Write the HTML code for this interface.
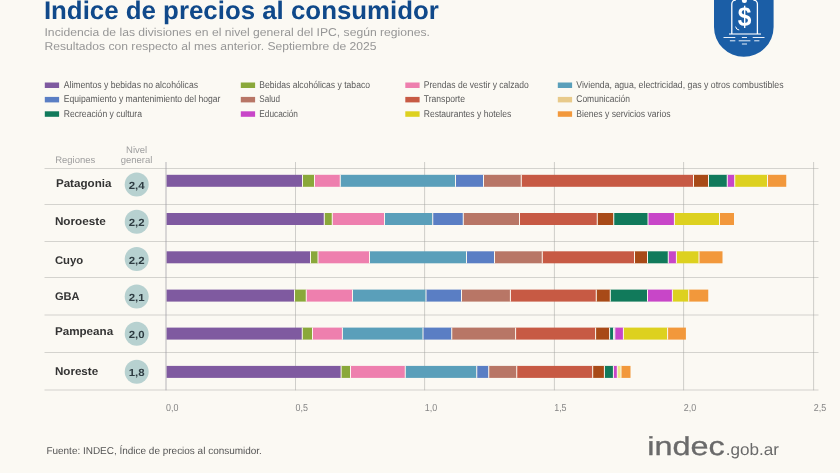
<!DOCTYPE html>
<html lang="es"><head><meta charset="utf-8"><title>Índice de precios al consumidor</title>
<style>
html,body{margin:0;padding:0;background:#fbf9f3;}
body{width:840px;height:473px;overflow:hidden;position:relative;font-family:"Liberation Sans",sans-serif;}
svg{position:absolute;left:0;top:0;display:block}
text{font-family:"Liberation Sans",sans-serif;text-rendering:geometricPrecision}
</style></head><body>
<svg width="840" height="473" viewBox="0 0 840 473">
<rect width="840" height="473" fill="#fbf9f3"/>

<text x="43.9" y="19.3" font-size="25.4" font-weight="bold" fill="#10498a" textLength="395" lengthAdjust="spacingAndGlyphs">Índice de precios al consumidor</text>
<text x="44.5" y="35.5" font-size="11.4" fill="#969696" textLength="385.5" lengthAdjust="spacingAndGlyphs">Incidencia de las divisiones en el nivel general del IPC, según regiones.</text>
<text x="44.5" y="49.9" font-size="11.4" fill="#969696" textLength="332" lengthAdjust="spacingAndGlyphs">Resultados con respecto al mes anterior. Septiembre de 2025</text>
<g>
<path d="M714 0 H773.6 V27 A29.8 29.8 0 0 1 714 27 Z" fill="#1b5ea6"/>
<path d="M731.8 34 V4 A4 4 0 0 1 735.8 0 M753.4 0 A4 4 0 0 1 757.4 4 V34" fill="none" stroke="#fff" stroke-width="1.3"/>
<path d="M729 34 H761" stroke="#fff" stroke-width="1.1" fill="none"/>
<path d="M723.5 37.5 H735.3 M741.9 37.5 H747 M752.7 37.5 H764.5 M729.9 40.8 H735.3 M738.7 40.8 H750.4 M754.2 40.8 H759.4 M741.9 44 H747" stroke="#e8f0fa" stroke-width="1" fill="none"/>
<path d="M735.6 26.6 A4 4 0 0 0 739.2 30" stroke="#fff" stroke-width="1" fill="none"/>
<circle cx="744.4" cy="0.4" r="2.5" fill="#fff"/>
<text transform="translate(744.6,26.3) scale(0.9,1)" x="0" y="0" font-size="27.3" font-weight="bold" fill="#fff" text-anchor="middle">$</text>
</g>
<rect x="44.80" y="82.50" width="14.3" height="5.5" fill="#7f5aa0"/>
<text x="63.75" y="87.90" font-size="9.8" text-rendering="geometricPrecision" fill="#5a5a5a" textLength="134.25" lengthAdjust="spacingAndGlyphs">Alimentos y bebidas no alcohólicas</text>
<rect x="44.80" y="96.90" width="14.3" height="5.5" fill="#5a7ec4"/>
<text x="63.75" y="102.40" font-size="9.8" text-rendering="geometricPrecision" fill="#5a5a5a" textLength="156.75" lengthAdjust="spacingAndGlyphs">Equipamiento y mantenimiento del hogar</text>
<rect x="44.80" y="111.30" width="14.3" height="5.5" fill="#117a5b"/>
<text x="63.75" y="116.90" font-size="9.8" text-rendering="geometricPrecision" fill="#5a5a5a" textLength="78.25" lengthAdjust="spacingAndGlyphs">Recreación y cultura</text>
<rect x="240.80" y="82.50" width="14.3" height="5.5" fill="#8aa83a"/>
<text x="259.25" y="87.90" font-size="9.8" text-rendering="geometricPrecision" fill="#5a5a5a" textLength="110.75" lengthAdjust="spacingAndGlyphs">Bebidas alcohólicas y tabaco</text>
<rect x="240.80" y="96.90" width="14.3" height="5.5" fill="#b87666"/>
<text x="259.25" y="102.40" font-size="9.8" text-rendering="geometricPrecision" fill="#5a5a5a" textLength="20.75" lengthAdjust="spacingAndGlyphs">Salud</text>
<rect x="240.80" y="111.30" width="14.3" height="5.5" fill="#c846c8"/>
<text x="259.25" y="116.90" font-size="9.8" text-rendering="geometricPrecision" fill="#5a5a5a" textLength="38.75" lengthAdjust="spacingAndGlyphs">Educación</text>
<rect x="405.30" y="82.50" width="14.3" height="5.5" fill="#ee7fae"/>
<text x="423.75" y="87.90" font-size="9.8" text-rendering="geometricPrecision" fill="#5a5a5a" textLength="105.00" lengthAdjust="spacingAndGlyphs">Prendas de vestir y calzado</text>
<rect x="405.30" y="96.90" width="14.3" height="5.5" fill="#c75a44"/>
<text x="423.75" y="102.40" font-size="9.8" text-rendering="geometricPrecision" fill="#5a5a5a" textLength="41.25" lengthAdjust="spacingAndGlyphs">Transporte</text>
<rect x="405.30" y="111.30" width="14.3" height="5.5" fill="#ddd11f"/>
<text x="423.75" y="116.90" font-size="9.8" text-rendering="geometricPrecision" fill="#5a5a5a" textLength="87.50" lengthAdjust="spacingAndGlyphs">Restaurantes y hoteles</text>
<rect x="557.80" y="82.50" width="14.3" height="5.5" fill="#5a9fba"/>
<text x="576.25" y="87.90" font-size="9.8" text-rendering="geometricPrecision" fill="#5a5a5a" textLength="207.25" lengthAdjust="spacingAndGlyphs">Vivienda, agua, electricidad, gas y otros combustibles</text>
<rect x="557.80" y="96.90" width="14.3" height="5.5" fill="#e8ca8a"/>
<text x="576.25" y="102.40" font-size="9.8" text-rendering="geometricPrecision" fill="#5a5a5a" textLength="53.75" lengthAdjust="spacingAndGlyphs">Comunicación</text>
<rect x="557.80" y="111.30" width="14.3" height="5.5" fill="#f2983b"/>
<text x="576.25" y="116.90" font-size="9.8" text-rendering="geometricPrecision" fill="#5a5a5a" textLength="94.25" lengthAdjust="spacingAndGlyphs">Bienes y servicios varios</text>
<text x="55.2" y="163" font-size="9.5" fill="#a0a0a0">Regiones</text>
<text x="136.6" y="153.3" font-size="9.5" fill="#a0a0a0" text-anchor="middle">Nivel</text>
<text x="136.6" y="163" font-size="9.5" fill="#a0a0a0" text-anchor="middle">general</text>
<rect x="44.5" y="168.00" width="774" height="0.5" fill="#adaca8"/>
<rect x="44.5" y="204.25" width="774" height="0.5" fill="#adaca8"/>
<rect x="44.5" y="241.00" width="774" height="0.5" fill="#adaca8"/>
<rect x="44.5" y="277.50" width="774" height="0.5" fill="#adaca8"/>
<rect x="44.5" y="314.75" width="774" height="0.5" fill="#adaca8"/>
<rect x="44.5" y="352.00" width="774" height="0.5" fill="#adaca8"/>
<rect x="44.5" y="389.75" width="774" height="0.5" fill="#adaca8"/>
<rect x="165.65" y="162" width="0.7" height="228.30" fill="#9d99a3"/>
<rect x="295.25" y="162" width="0.5" height="228.30" fill="#a3a2a0"/>
<rect x="424.55" y="162" width="0.5" height="228.30" fill="#a3a2a0"/>
<rect x="553.95" y="162" width="0.5" height="228.30" fill="#a3a2a0"/>
<rect x="683.55" y="162" width="0.5" height="228.30" fill="#a3a2a0"/>
<rect x="813.55" y="162" width="0.5" height="228.30" fill="#a3a2a0"/>
<rect x="166.60" y="174.8" width="135.90" height="12.0" fill="#7f5aa0"/>
<rect x="302.50" y="174.8" width="12.00" height="12.0" fill="#8aa83a"/>
<rect x="314.50" y="174.8" width="25.75" height="12.0" fill="#ee7fae"/>
<rect x="340.25" y="174.8" width="115.25" height="12.0" fill="#5a9fba"/>
<rect x="455.50" y="174.8" width="28.00" height="12.0" fill="#5a7ec4"/>
<rect x="483.50" y="174.8" width="37.75" height="12.0" fill="#b87666"/>
<rect x="521.25" y="174.8" width="172.25" height="12.0" fill="#c75a44"/>
<rect x="693.50" y="174.8" width="15.00" height="12.0" fill="#a84a17"/>
<rect x="708.50" y="174.8" width="18.75" height="12.0" fill="#117a5b"/>
<rect x="727.25" y="174.8" width="7.50" height="12.0" fill="#c846c8"/>
<rect x="734.75" y="174.8" width="32.75" height="12.0" fill="#ddd11f"/>
<rect x="767.50" y="174.8" width="18.75" height="12.0" fill="#f2983b"/>
<rect x="302.00" y="174.8" width="1" height="12.0" fill="#fbf6ee"/>
<rect x="314.00" y="174.8" width="1" height="12.0" fill="#fbf6ee"/>
<rect x="339.75" y="174.8" width="1" height="12.0" fill="#fbf6ee"/>
<rect x="455.00" y="174.8" width="1" height="12.0" fill="#fbf6ee"/>
<rect x="483.00" y="174.8" width="1" height="12.0" fill="#fbf6ee"/>
<rect x="520.75" y="174.8" width="1" height="12.0" fill="#fbf6ee"/>
<rect x="693.00" y="174.8" width="1" height="12.0" fill="#fbf6ee"/>
<rect x="708.00" y="174.8" width="1" height="12.0" fill="#fbf6ee"/>
<rect x="726.75" y="174.8" width="1" height="12.0" fill="#fbf6ee"/>
<rect x="734.25" y="174.8" width="1" height="12.0" fill="#fbf6ee"/>
<rect x="767.00" y="174.8" width="1" height="12.0" fill="#fbf6ee"/>
<circle cx="136.7" cy="184.4" r="12" fill="#b7d1d0"/>
<text x="136.7" y="188.90" font-size="10.3" font-weight="bold" fill="#2e3c42" text-anchor="middle" text-rendering="geometricPrecision" textLength="15.9" lengthAdjust="spacingAndGlyphs">2,4</text>
<text x="55.9" y="187.4" font-size="11.2" font-weight="bold" fill="#333" textLength="55.55" lengthAdjust="spacingAndGlyphs">Patagonia</text>
<rect x="166.60" y="213.0" width="157.65" height="12.0" fill="#7f5aa0"/>
<rect x="324.25" y="213.0" width="8.00" height="12.0" fill="#8aa83a"/>
<rect x="332.25" y="213.0" width="52.25" height="12.0" fill="#ee7fae"/>
<rect x="384.50" y="213.0" width="48.25" height="12.0" fill="#5a9fba"/>
<rect x="432.75" y="213.0" width="30.50" height="12.0" fill="#5a7ec4"/>
<rect x="463.25" y="213.0" width="56.25" height="12.0" fill="#b87666"/>
<rect x="519.50" y="213.0" width="77.75" height="12.0" fill="#c75a44"/>
<rect x="597.25" y="213.0" width="16.50" height="12.0" fill="#a84a17"/>
<rect x="613.75" y="213.0" width="34.25" height="12.0" fill="#117a5b"/>
<rect x="648.00" y="213.0" width="26.40" height="12.0" fill="#c846c8"/>
<rect x="674.40" y="213.0" width="45.10" height="12.0" fill="#ddd11f"/>
<rect x="719.50" y="213.0" width="14.50" height="12.0" fill="#f2983b"/>
<rect x="323.75" y="213.0" width="1" height="12.0" fill="#fbf6ee"/>
<rect x="331.75" y="213.0" width="1" height="12.0" fill="#fbf6ee"/>
<rect x="384.00" y="213.0" width="1" height="12.0" fill="#fbf6ee"/>
<rect x="432.25" y="213.0" width="1" height="12.0" fill="#fbf6ee"/>
<rect x="462.75" y="213.0" width="1" height="12.0" fill="#fbf6ee"/>
<rect x="519.00" y="213.0" width="1" height="12.0" fill="#fbf6ee"/>
<rect x="596.75" y="213.0" width="1" height="12.0" fill="#fbf6ee"/>
<rect x="613.25" y="213.0" width="1" height="12.0" fill="#fbf6ee"/>
<rect x="647.50" y="213.0" width="1" height="12.0" fill="#fbf6ee"/>
<rect x="673.90" y="213.0" width="1" height="12.0" fill="#fbf6ee"/>
<rect x="719.00" y="213.0" width="1" height="12.0" fill="#fbf6ee"/>
<circle cx="136.7" cy="221.75" r="12" fill="#b7d1d0"/>
<text x="136.7" y="226.25" font-size="10.3" font-weight="bold" fill="#2e3c42" text-anchor="middle" text-rendering="geometricPrecision" textLength="15.9" lengthAdjust="spacingAndGlyphs">2,2</text>
<text x="54.9" y="224.5" font-size="11.2" font-weight="bold" fill="#333" textLength="50.80" lengthAdjust="spacingAndGlyphs">Noroeste</text>
<rect x="166.60" y="251.3" width="143.90" height="12.0" fill="#7f5aa0"/>
<rect x="310.50" y="251.3" width="7.50" height="12.0" fill="#8aa83a"/>
<rect x="318.00" y="251.3" width="51.50" height="12.0" fill="#ee7fae"/>
<rect x="369.50" y="251.3" width="97.00" height="12.0" fill="#5a9fba"/>
<rect x="466.50" y="251.3" width="28.00" height="12.0" fill="#5a7ec4"/>
<rect x="494.50" y="251.3" width="47.75" height="12.0" fill="#b87666"/>
<rect x="542.25" y="251.3" width="92.25" height="12.0" fill="#c75a44"/>
<rect x="634.50" y="251.3" width="13.00" height="12.0" fill="#a84a17"/>
<rect x="647.50" y="251.3" width="20.75" height="12.0" fill="#117a5b"/>
<rect x="668.25" y="251.3" width="8.15" height="12.0" fill="#c846c8"/>
<rect x="676.40" y="251.3" width="22.60" height="12.0" fill="#ddd11f"/>
<rect x="699.00" y="251.3" width="23.50" height="12.0" fill="#f2983b"/>
<rect x="310.00" y="251.3" width="1" height="12.0" fill="#fbf6ee"/>
<rect x="317.50" y="251.3" width="1" height="12.0" fill="#fbf6ee"/>
<rect x="369.00" y="251.3" width="1" height="12.0" fill="#fbf6ee"/>
<rect x="466.00" y="251.3" width="1" height="12.0" fill="#fbf6ee"/>
<rect x="494.00" y="251.3" width="1" height="12.0" fill="#fbf6ee"/>
<rect x="541.75" y="251.3" width="1" height="12.0" fill="#fbf6ee"/>
<rect x="634.00" y="251.3" width="1" height="12.0" fill="#fbf6ee"/>
<rect x="647.00" y="251.3" width="1" height="12.0" fill="#fbf6ee"/>
<rect x="667.75" y="251.3" width="1" height="12.0" fill="#fbf6ee"/>
<rect x="675.90" y="251.3" width="1" height="12.0" fill="#fbf6ee"/>
<rect x="698.50" y="251.3" width="1" height="12.0" fill="#fbf6ee"/>
<circle cx="136.7" cy="259" r="12" fill="#b7d1d0"/>
<text x="136.7" y="263.50" font-size="10.3" font-weight="bold" fill="#2e3c42" text-anchor="middle" text-rendering="geometricPrecision" textLength="15.9" lengthAdjust="spacingAndGlyphs">2,2</text>
<text x="54.9" y="264.1" font-size="11.2" font-weight="bold" fill="#333" textLength="28.30" lengthAdjust="spacingAndGlyphs">Cuyo</text>
<rect x="166.60" y="289.6" width="127.90" height="12.0" fill="#7f5aa0"/>
<rect x="294.50" y="289.6" width="11.75" height="12.0" fill="#8aa83a"/>
<rect x="306.25" y="289.6" width="46.25" height="12.0" fill="#ee7fae"/>
<rect x="352.50" y="289.6" width="73.50" height="12.0" fill="#5a9fba"/>
<rect x="426.00" y="289.6" width="35.50" height="12.0" fill="#5a7ec4"/>
<rect x="461.50" y="289.6" width="48.90" height="12.0" fill="#b87666"/>
<rect x="510.40" y="289.6" width="85.85" height="12.0" fill="#c75a44"/>
<rect x="596.25" y="289.6" width="14.00" height="12.0" fill="#a84a17"/>
<rect x="610.25" y="289.6" width="37.25" height="12.0" fill="#117a5b"/>
<rect x="647.50" y="289.6" width="24.90" height="12.0" fill="#c846c8"/>
<rect x="672.40" y="289.6" width="16.35" height="12.0" fill="#ddd11f"/>
<rect x="688.75" y="289.6" width="19.50" height="12.0" fill="#f2983b"/>
<rect x="294.00" y="289.6" width="1" height="12.0" fill="#fbf6ee"/>
<rect x="305.75" y="289.6" width="1" height="12.0" fill="#fbf6ee"/>
<rect x="352.00" y="289.6" width="1" height="12.0" fill="#fbf6ee"/>
<rect x="425.50" y="289.6" width="1" height="12.0" fill="#fbf6ee"/>
<rect x="461.00" y="289.6" width="1" height="12.0" fill="#fbf6ee"/>
<rect x="509.90" y="289.6" width="1" height="12.0" fill="#fbf6ee"/>
<rect x="595.75" y="289.6" width="1" height="12.0" fill="#fbf6ee"/>
<rect x="609.75" y="289.6" width="1" height="12.0" fill="#fbf6ee"/>
<rect x="647.00" y="289.6" width="1" height="12.0" fill="#fbf6ee"/>
<rect x="671.90" y="289.6" width="1" height="12.0" fill="#fbf6ee"/>
<rect x="688.25" y="289.6" width="1" height="12.0" fill="#fbf6ee"/>
<circle cx="136.7" cy="296.4" r="12" fill="#b7d1d0"/>
<text x="136.7" y="300.90" font-size="10.3" font-weight="bold" fill="#2e3c42" text-anchor="middle" text-rendering="geometricPrecision" textLength="15.9" lengthAdjust="spacingAndGlyphs">2,1</text>
<text x="54.9" y="300.3" font-size="11.2" font-weight="bold" fill="#333" textLength="24.55" lengthAdjust="spacingAndGlyphs">GBA</text>
<rect x="166.60" y="327.6" width="135.65" height="12.0" fill="#7f5aa0"/>
<rect x="302.25" y="327.6" width="10.25" height="12.0" fill="#8aa83a"/>
<rect x="312.50" y="327.6" width="29.90" height="12.0" fill="#ee7fae"/>
<rect x="342.40" y="327.6" width="80.60" height="12.0" fill="#5a9fba"/>
<rect x="423.00" y="327.6" width="28.75" height="12.0" fill="#5a7ec4"/>
<rect x="451.75" y="327.6" width="63.85" height="12.0" fill="#b87666"/>
<rect x="515.60" y="327.6" width="80.00" height="12.0" fill="#c75a44"/>
<rect x="595.60" y="327.6" width="14.00" height="12.0" fill="#a84a17"/>
<rect x="609.60" y="327.6" width="4.00" height="12.0" fill="#117a5b"/>
<rect x="613.60" y="327.6" width="1.20" height="12.0" fill="#9fb6d8"/>
<rect x="614.80" y="327.6" width="8.60" height="12.0" fill="#c846c8"/>
<rect x="623.40" y="327.6" width="44.20" height="12.0" fill="#ddd11f"/>
<rect x="667.60" y="327.6" width="18.30" height="12.0" fill="#f2983b"/>
<rect x="301.75" y="327.6" width="1" height="12.0" fill="#fbf6ee"/>
<rect x="312.00" y="327.6" width="1" height="12.0" fill="#fbf6ee"/>
<rect x="341.90" y="327.6" width="1" height="12.0" fill="#fbf6ee"/>
<rect x="422.50" y="327.6" width="1" height="12.0" fill="#fbf6ee"/>
<rect x="451.25" y="327.6" width="1" height="12.0" fill="#fbf6ee"/>
<rect x="515.10" y="327.6" width="1" height="12.0" fill="#fbf6ee"/>
<rect x="595.10" y="327.6" width="1" height="12.0" fill="#fbf6ee"/>
<rect x="609.10" y="327.6" width="1" height="12.0" fill="#fbf6ee"/>
<rect x="613.10" y="327.6" width="1" height="12.0" fill="#fbf6ee"/>
<rect x="614.30" y="327.6" width="1" height="12.0" fill="#fbf6ee"/>
<rect x="622.90" y="327.6" width="1" height="12.0" fill="#fbf6ee"/>
<rect x="667.10" y="327.6" width="1" height="12.0" fill="#fbf6ee"/>
<circle cx="136.7" cy="333.8" r="12" fill="#b7d1d0"/>
<text x="136.7" y="338.30" font-size="10.3" font-weight="bold" fill="#2e3c42" text-anchor="middle" text-rendering="geometricPrecision" textLength="15.9" lengthAdjust="spacingAndGlyphs">2,0</text>
<text x="54.9" y="335.4" font-size="11.2" font-weight="bold" fill="#333" textLength="58.30" lengthAdjust="spacingAndGlyphs">Pampeana</text>
<rect x="166.60" y="365.9" width="174.50" height="12.0" fill="#7f5aa0"/>
<rect x="341.10" y="365.9" width="9.40" height="12.0" fill="#8aa83a"/>
<rect x="350.50" y="365.9" width="54.75" height="12.0" fill="#ee7fae"/>
<rect x="405.25" y="365.9" width="71.50" height="12.0" fill="#5a9fba"/>
<rect x="476.75" y="365.9" width="12.00" height="12.0" fill="#5a7ec4"/>
<rect x="488.75" y="365.9" width="28.00" height="12.0" fill="#b87666"/>
<rect x="516.75" y="365.9" width="75.95" height="12.0" fill="#c75a44"/>
<rect x="592.70" y="365.9" width="11.70" height="12.0" fill="#a84a17"/>
<rect x="604.40" y="365.9" width="9.00" height="12.0" fill="#117a5b"/>
<rect x="613.40" y="365.9" width="3.90" height="12.0" fill="#c846c8"/>
<rect x="617.30" y="365.9" width="3.70" height="12.0" fill="#f1e68a"/>
<rect x="621.00" y="365.9" width="9.50" height="12.0" fill="#f2983b"/>
<rect x="340.60" y="365.9" width="1" height="12.0" fill="#fbf6ee"/>
<rect x="350.00" y="365.9" width="1" height="12.0" fill="#fbf6ee"/>
<rect x="404.75" y="365.9" width="1" height="12.0" fill="#fbf6ee"/>
<rect x="476.25" y="365.9" width="1" height="12.0" fill="#fbf6ee"/>
<rect x="488.25" y="365.9" width="1" height="12.0" fill="#fbf6ee"/>
<rect x="516.25" y="365.9" width="1" height="12.0" fill="#fbf6ee"/>
<rect x="592.20" y="365.9" width="1" height="12.0" fill="#fbf6ee"/>
<rect x="603.90" y="365.9" width="1" height="12.0" fill="#fbf6ee"/>
<rect x="612.90" y="365.9" width="1" height="12.0" fill="#fbf6ee"/>
<rect x="616.80" y="365.9" width="1" height="12.0" fill="#fbf6ee"/>
<rect x="620.50" y="365.9" width="1" height="12.0" fill="#fbf6ee"/>
<circle cx="136.7" cy="371.7" r="12" fill="#b7d1d0"/>
<text x="136.7" y="376.20" font-size="10.3" font-weight="bold" fill="#2e3c42" text-anchor="middle" text-rendering="geometricPrecision" textLength="15.9" lengthAdjust="spacingAndGlyphs">1,8</text>
<text x="54.9" y="375.1" font-size="11.2" font-weight="bold" fill="#333" textLength="43.30" lengthAdjust="spacingAndGlyphs">Noreste</text>
<text x="166.00" y="410.8" font-size="10.2" text-rendering="geometricPrecision" fill="#858585" textLength="12.4" lengthAdjust="spacingAndGlyphs">0,0</text>
<text x="295.50" y="410.8" font-size="10.2" text-rendering="geometricPrecision" fill="#858585" textLength="12.4" lengthAdjust="spacingAndGlyphs">0,5</text>
<text x="424.80" y="410.8" font-size="10.2" text-rendering="geometricPrecision" fill="#858585" textLength="12.4" lengthAdjust="spacingAndGlyphs">1,0</text>
<text x="554.20" y="410.8" font-size="10.2" text-rendering="geometricPrecision" fill="#858585" textLength="12.4" lengthAdjust="spacingAndGlyphs">1,5</text>
<text x="683.80" y="410.8" font-size="10.2" text-rendering="geometricPrecision" fill="#858585" textLength="12.4" lengthAdjust="spacingAndGlyphs">2,0</text>
<text x="813.80" y="410.8" font-size="10.2" text-rendering="geometricPrecision" fill="#858585" textLength="12.4" lengthAdjust="spacingAndGlyphs">2,5</text>
<text x="46.4" y="454.3" font-size="10" fill="#555" textLength="215.5" lengthAdjust="spacingAndGlyphs">Fuente: INDEC, Índice de precios al consumidor.</text>
<text x="647.3" y="454.5" font-size="26" fill="#6a6a6a" stroke="#6a6a6a" stroke-width="0.3" textLength="77.5" lengthAdjust="spacingAndGlyphs">indec</text>
<text x="725.7" y="454.5" font-size="16.5" fill="#6a6a6a" textLength="53.3" lengthAdjust="spacingAndGlyphs">.gob.ar</text>
</svg></body></html>
